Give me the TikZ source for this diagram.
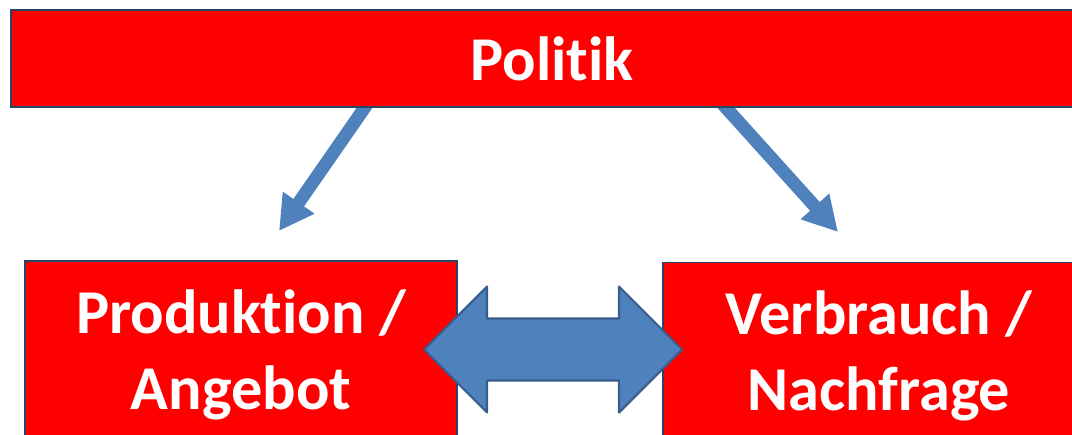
\documentclass[tikz,border=0pt]{standalone}
\usepackage{fontspec}
\setmainfont{Carlito}[Ligatures=NoCommon]
\usetikzlibrary{arrows.meta, backgrounds}
\definecolor{rot}{HTML}{FF0000}
\definecolor{rahmen}{HTML}{2A4468}
\definecolor{pfeilblau}{HTML}{4F81BD}
\definecolor{pfeilrand}{HTML}{385D8A}
\tikzset{
	kasten/.style={draw=rahmen, line width=0.9pt, fill=rot, text=white, align=center, inner sep=0pt,
		font=\bfseries\fontsize{35.5}{43.5}\selectfont},
	pfeil/.style={draw=pfeilblau, line width=7.4pt, -{Triangle[length=0.69cm, width=0.72cm]}},
	tausch/.style={fill=pfeilblau, draw=pfeilrand, line width=1.2pt, line join=round}
}

\begin{document}
\begin{tikzpicture}[x=0.02cm, y=-0.02cm]
					\useasboundingbox (0,0) rectangle (1072,434);
					\clip (0,0) rectangle (1072,434);
					\node (politik)   at (552,58.5) [kasten, minimum width=21.64cm, minimum height=1.94cm] {Politik};
					\node (angebot)   at (241,355)  [kasten, minimum width=8.64cm, minimum height=3.76cm] {Produktion /\\Angebot};
					\node (nachfrage) at (879,356)  [kasten, minimum width=8.64cm, minimum height=3.74cm] {Verbrauch /\\Nachfrage};

					% Draw the arrows below the boxes
					\coordinate (lStart) at (370,100);
					\coordinate (lEnd)   at (279,231);
					\coordinate (rStart) at (719,100);
					\coordinate (rEnd)   at (838,232);
					\begin{scope}[on background layer]
						\draw[pfeil] (lStart) -- (lEnd);
						\draw[pfeil] (rStart) -- (rEnd);
					\end{scope}

					% Draw the double arrow between the boxes
					\coordinate (mitte) at (553.5,349.5);
					\draw[tausch] (mitte) ++(-129.5,0) -- ++(63,-63) -- ++(0,32) -- ++(132,0) -- ++(0,-32)
						-- ++(63,63) -- ++(-63,63) -- ++(0,-32) -- ++(-132,0) -- ++(0,32) -- cycle;
				\end{tikzpicture}
\end{document}
